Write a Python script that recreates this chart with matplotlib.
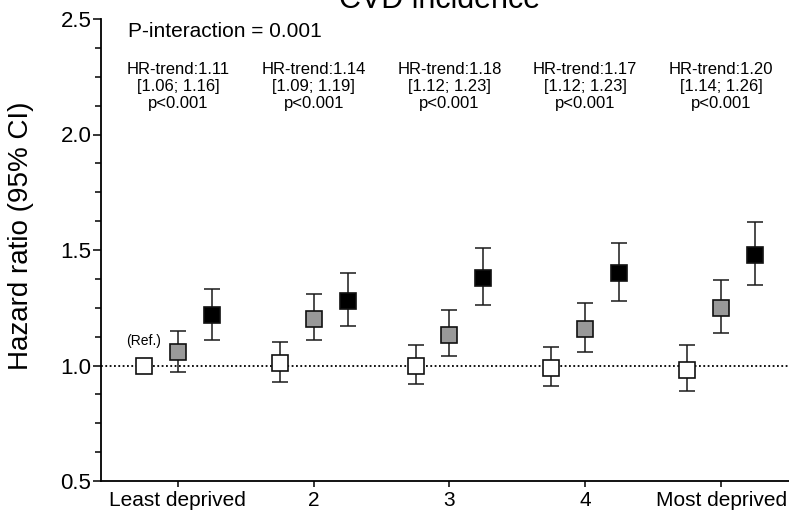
import numpy as np
import matplotlib
matplotlib.use("Agg")
import matplotlib.pyplot as plt
from matplotlib.ticker import MultipleLocator

# ---- Data ----
CATEGORIES = ["Least deprived", "2", "3", "4", "Most deprived"]

HR_WHITE = [1.00, 1.01, 1.00, 0.99, 0.98]
LO_WHITE = [np.nan, 0.93, 0.92, 0.91, 0.89]
HI_WHITE = [np.nan, 1.10, 1.09, 1.08, 1.09]

HR_GRAY = [1.06, 1.20, 1.13, 1.16, 1.25]
LO_GRAY = [0.97, 1.11, 1.04, 1.06, 1.14]
HI_GRAY = [1.15, 1.31, 1.24, 1.27, 1.37]

HR_BLACK = [1.22, 1.28, 1.38, 1.40, 1.48]
LO_BLACK = [1.11, 1.17, 1.26, 1.28, 1.35]
HI_BLACK = [1.33, 1.40, 1.51, 1.53, 1.62]

TREND_LABELS = [
    "HR-trend:1.11\n[1.06; 1.16]\np<0.001",
    "HR-trend:1.14\n[1.09; 1.19]\np<0.001",
    "HR-trend:1.18\n[1.12; 1.23]\np<0.001",
    "HR-trend:1.17\n[1.12; 1.23]\np<0.001",
    "HR-trend:1.20\n[1.14; 1.26]\np<0.001",
]

TITLE = "CVD incidence"
P_INTERACTION = "P-interaction = 0.001"

plt.rcParams["font.family"] = ["Liberation Sans", "DejaVu Sans"]

fig = plt.figure(figsize=(7.89, 5.18), dpi=100)
ax = fig.add_axes([101 / 789, 37 / 518, 688 / 789, 462 / 518])

x = np.arange(len(CATEGORIES))

# reference line at HR = 1
ax.axhline(1.0, color="black", lw=1.3, linestyle=(0, (1, 1.4)), zorder=1)


def draw_series(offset, hr, lo, hi, face):
    hr = np.asarray(hr)
    lo = np.asarray(lo)
    hi = np.asarray(hi)
    xs = x + offset
    yerr = np.vstack([hr - lo, hi - hr])
    ax.errorbar(xs, hr, yerr=yerr, fmt="none", ecolor="#1a1a1a",
                elinewidth=1.1, capsize=5.8, capthick=1.1, zorder=2)
    ax.plot(xs, hr, linestyle="none", marker="s", markersize=11.5,
            markerfacecolor=face, markeredgecolor="#111111",
            markeredgewidth=1.2, zorder=3)


draw_series(-0.25, HR_WHITE, LO_WHITE, HI_WHITE, "white")
draw_series(0.0, HR_GRAY, LO_GRAY, HI_GRAY, "#999999")
draw_series(0.25, HR_BLACK, LO_BLACK, HI_BLACK, "black")

ax.text(x[0] - 0.25, 1.108, "(Ref.)", ha="center", va="center", fontsize=10)

for xi, lab in zip(x, TREND_LABELS):
    ax.text(xi, 2.207, lab, ha="center", va="center", fontsize=12,
            linespacing=1.15)

ax.text(0.039, 0.972, P_INTERACTION, transform=ax.transAxes,
        ha="left", va="center", fontsize=15)

# ---- Axes styling ----
ax.set_xlim(-0.566, 4.5)
ax.set_ylim(0.5, 2.5)
ax.yaxis.set_major_locator(MultipleLocator(0.5))
ax.yaxis.set_minor_locator(MultipleLocator(0.125))
ax.yaxis.set_major_formatter(plt.FormatStrFormatter("%.1f"))
ax.set_xticks(x)
ax.set_xticklabels(CATEGORIES)

for side in ("top", "right"):
    ax.spines[side].set_visible(False)
for side in ("left", "bottom"):
    ax.spines[side].set_linewidth(1.3)

ax.tick_params(axis="y", which="major", length=6, width=1.1, labelsize=16, pad=1)
ax.tick_params(axis="y", which="minor", length=4, width=1.1)
ax.tick_params(axis="x", length=4, width=1.1, labelsize=15, pad=3)

ax.set_ylabel("Hazard ratio (95% CI)", fontsize=20)
ax.yaxis.set_label_coords(-0.097, 0.53)

# title sits partly above the canvas, as in the reference
fig.text(440 / 789, 1 - 7.5 / 518, TITLE, ha="center", va="baseline", fontsize=22)

fig.savefig("out.png", dpi=100)
